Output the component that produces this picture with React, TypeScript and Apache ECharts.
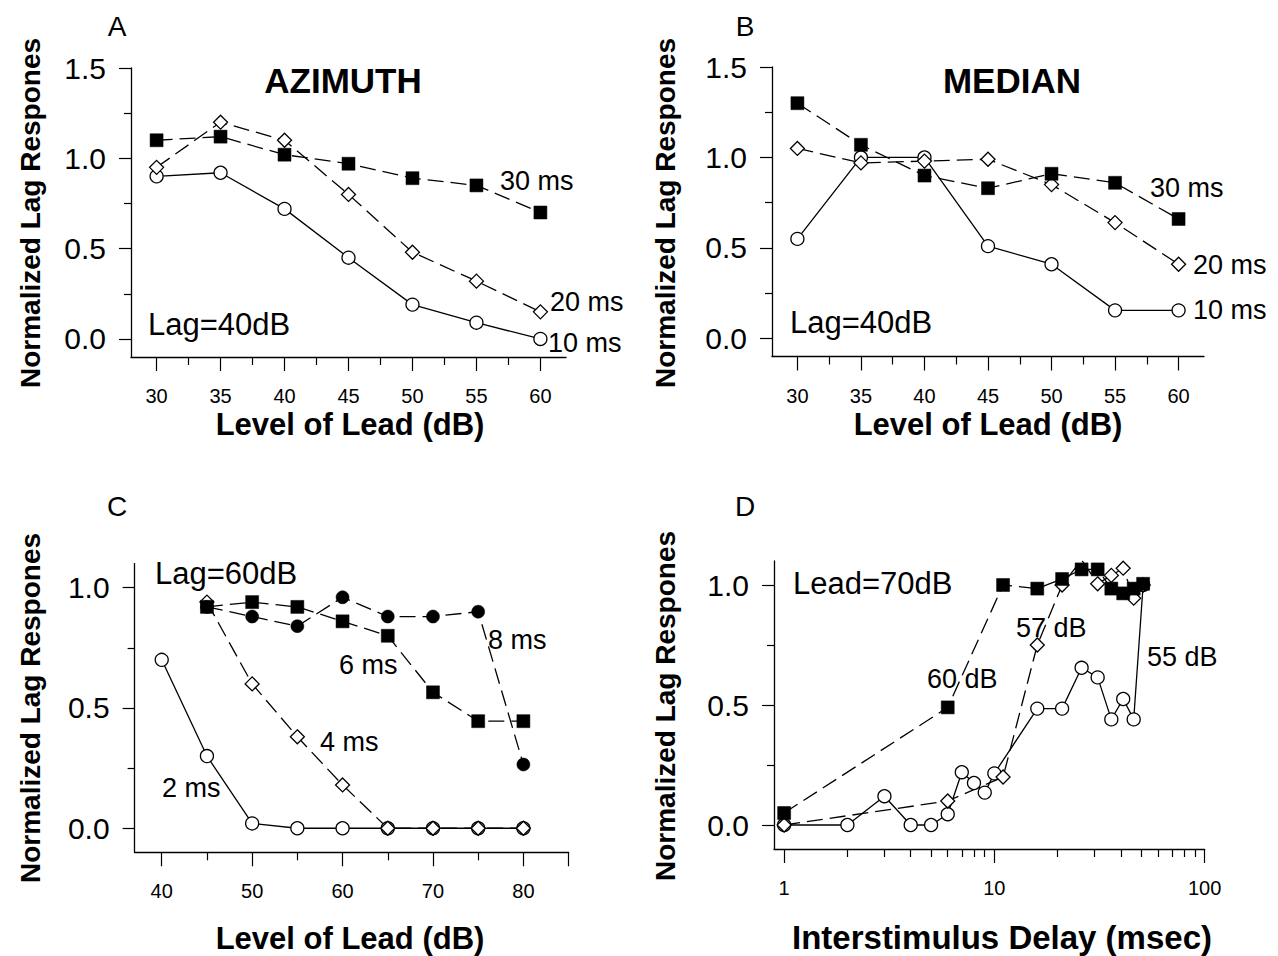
import React, { useEffect, useRef } from "react";
import * as echarts from "echarts";

// ---------- Panel A / B : Level of lead (dB) ----------
const leadLevelsAB = [30, 35, 40, 45, 50, 55, 60];
const azimuth30ms = [1.10, 1.12, 1.02, 0.97, 0.89, 0.85, 0.70];
const azimuth20ms = [0.95, 1.20, 1.10, 0.80, 0.48, 0.32, 0.15];
const azimuth10ms = [0.90, 0.92, 0.72, 0.45, 0.19, 0.09, 0.0];
const median30ms = [1.30, 1.07, 0.90, 0.83, 0.91, 0.86, 0.66];
const median20ms = [1.05, 0.97, 0.98, 0.99, 0.85, 0.64, 0.41];
const median10ms = [0.55, 1.0, 1.0, 0.51, 0.41, 0.155, 0.155];

// ---------- Panel C : Lag = 60 dB ----------
const leadLevels2ms = [40, 45, 50, 55, 60, 65, 70, 75, 80];
const lag2ms = [0.70, 0.30, 0.02, 0, 0, 0, 0, 0, 0];
const leadLevelsC = [45, 50, 55, 60, 65, 70, 75, 80];
const lag4ms = [0.94, 0.60, 0.38, 0.18, 0, 0, 0, 0];
const lag6ms = [0.92, 0.94, 0.92, 0.86, 0.80, 0.565, 0.445, 0.445];
const lag8ms = [0.92, 0.88, 0.84, 0.96, 0.88, 0.88, 0.90, 0.265];

// ---------- Panel D : Lead = 70 dB ----------
const delays60 = [1, 6, 11, 16, 21, 26, 31, 36, 41, 46, 51];
const lag60dB = [0.05, 0.49, 1.0, 0.985, 1.025, 1.065, 1.065, 0.985, 0.965, 0.985, 1.005];
const delays57 = [1, 6, 11, 16, 21, 26, 31, 36, 41, 46, 51];
const lag57dB = [0, 0.10, 0.20, 0.75, 1.0, 1.105, 1.005, 1.04, 1.07, 0.945, 1.0];
const delays55 = [1, 2, 3, 4, 5, 6, 7, 8, 9, 10, 16, 21, 26, 31, 36, 41, 46, 51];
const lag55dB = [0, 0, 0.12, 0, 0, 0.045, 0.22, 0.175, 0.135, 0.215, 0.485, 0.485, 0.655, 0.615, 0.44, 0.525, 0.44, 1.0];

// ---------- Tick values ----------
const ticksAB = [30, 35, 40, 45, 50, 55, 60];
const minorTicksAB = [32.5, 37.5, 42.5, 47.5, 52.5, 57.5];
const labelsC = [40, 50, 60, 70, 80];
const ticksC = [40, 50, 60, 70, 80, 85];
const minorTicksC = [45, 55, 65, 75];
const labelsD = [1, 10, 100];
const minorTicksD = [2, 3, 4, 5, 6, 7, 8, 9, 20, 30, 40, 50, 60, 70, 80, 90];
const yTicksAB = [0, 0.5, 1.0, 1.5];
const yMinorAB = [0.25, 0.75, 1.25];
const yTicksCD = [0, 0.5, 1.0];
const yMinorCD = [0.25, 0.75];

const FONT = "'Liberation Sans', Arial, Helvetica, sans-serif";

const pairs = (xs: number[], ys: number[]) => xs.map((x, i) => [x, ys[i]]);

type Marker = "square" | "diamond" | "circle" | "dot";
const markerStyle: Record<Marker, any> = {
  square: { symbol: "rect", symbolSize: 13, itemStyle: { color: "#000", borderColor: "#000", borderWidth: 0.5 } },
  diamond: { symbol: "diamond", symbolSize: 14, itemStyle: { color: "#fff", borderColor: "#000", borderWidth: 1.3 } },
  circle: { symbol: "circle", symbolSize: 13, itemStyle: { color: "#fff", borderColor: "#000", borderWidth: 1.3 } },
  dot: { symbol: "circle", symbolSize: 13, itemStyle: { color: "#000", borderColor: "#000", borderWidth: 0.5 } },
};

function lineSeries(name: string, data: number[][], g: number, marker: Marker, dashed: boolean) {
  const m = markerStyle[marker];
  return {
    type: "line",
    name,
    data,
    xAxisIndex: g * 2,
    yAxisIndex: g * 2,
    symbol: m.symbol,
    symbolSize: m.symbolSize,
    showSymbol: true,
    itemStyle: m.itemStyle,
    lineStyle: { color: "#000", width: 1.3, type: dashed ? [16, 7] : "solid" },
    emphasis: { disabled: true },
    silent: true,
  };
}

const tickLine = { color: "#000", width: 1.2 };

function xAxes(g: number, type: string, min: number, max: number, majors: number[], labels: number[], minors: number[]) {
  return [
    {
      gridIndex: g,
      type,
      position: "bottom",
      min,
      max,
      axisLine: { show: true, onZero: false, lineStyle: { color: "#000", width: 1.3 } },
      axisTick: { show: true, length: 14, customValues: majors, lineStyle: tickLine },
      axisLabel: {
        customValues: labels,
        margin: 29,
        fontSize: 20,
        color: "#000",
        fontFamily: FONT,
        formatter: (v: number) => String(v),
      },
      splitLine: { show: false },
      minorTick: { show: false },
    },
    {
      gridIndex: g,
      type,
      position: "bottom",
      min,
      max,
      axisLine: { show: false, onZero: false },
      axisTick: { show: true, length: 8, customValues: minors, lineStyle: tickLine },
      axisLabel: { show: false },
      splitLine: { show: false },
    },
  ];
}

function yAxes(g: number, min: number, max: number, majors: number[], minors: number[]) {
  return [
    {
      gridIndex: g,
      type: "value",
      position: "left",
      min,
      max,
      axisLine: { show: true, onZero: false, lineStyle: { color: "#000", width: 1.3 } },
      axisTick: { show: true, length: 12, customValues: majors, lineStyle: tickLine },
      axisLabel: {
        customValues: majors,
        margin: 25,
        fontSize: 30,
        color: "#000",
        fontFamily: FONT,
        formatter: (v: number) => v.toFixed(1),
      },
      splitLine: { show: false },
    },
    {
      gridIndex: g,
      type: "value",
      position: "left",
      min,
      max,
      axisLine: { show: false, onZero: false },
      axisTick: { show: true, length: 7, customValues: minors, lineStyle: tickLine },
      axisLabel: { show: false },
      splitLine: { show: false },
    },
  ];
}

function txt(text: string, x: number, y: number, size: number, opts: any = {}) {
  return {
    type: "text",
    x,
    y,
    rotation: opts.rotate ? Math.PI / 2 : 0,
    silent: true,
    style: {
      text,
      fill: "#000",
      font: `${opts.bold ? "bold " : ""}${size}px ${FONT}`,
      align: opts.align || "left",
      verticalAlign: "middle",
    },
  };
}

export default function App() {
  const ref = useRef<HTMLDivElement>(null);

  useEffect(() => {
    if (!ref.current) return;
    const chart = echarts.init(ref.current, undefined, { renderer: "svg" });

    const option: any = {
      animation: false,
      backgroundColor: "#fff",
      grid: [
        { left: 131, top: 68, width: 435, height: 289 },
        { left: 772, top: 67, width: 432, height: 289.5 },
        { left: 134.6, top: 563.6, width: 434, height: 288.7 },
        { left: 774, top: 561, width: 430.6, height: 288 },
      ],
      xAxis: [
        ...xAxes(0, "value", 28, 62, ticksAB, ticksAB, minorTicksAB),
        ...xAxes(1, "value", 28, 62, ticksAB, ticksAB, minorTicksAB),
        ...xAxes(2, "value", 37, 85, ticksC, labelsC, minorTicksC),
        ...xAxes(3, "log", 0.895, 100, labelsD, labelsD, minorTicksD),
      ],
      yAxis: [
        ...yAxes(0, -0.1, 1.5, yTicksAB, yMinorAB),
        ...yAxes(1, -0.1, 1.5, yTicksAB, yMinorAB),
        ...yAxes(2, -0.1, 1.1, yTicksCD, yMinorCD),
        ...yAxes(3, -0.1, 1.1, yTicksCD, yMinorCD),
      ],
      series: [
        lineSeries("Azimuth 10 ms", pairs(leadLevelsAB, azimuth10ms), 0, "circle", false),
        lineSeries("Azimuth 20 ms", pairs(leadLevelsAB, azimuth20ms), 0, "diamond", true),
        lineSeries("Azimuth 30 ms", pairs(leadLevelsAB, azimuth30ms), 0, "square", true),
        lineSeries("Median 10 ms", pairs(leadLevelsAB, median10ms), 1, "circle", false),
        lineSeries("Median 20 ms", pairs(leadLevelsAB, median20ms), 1, "diamond", true),
        lineSeries("Median 30 ms", pairs(leadLevelsAB, median30ms), 1, "square", true),
        lineSeries("2 ms", pairs(leadLevels2ms, lag2ms), 2, "circle", false),
        lineSeries("4 ms", pairs(leadLevelsC, lag4ms), 2, "diamond", true),
        lineSeries("6 ms", pairs(leadLevelsC, lag6ms), 2, "square", true),
        lineSeries("8 ms", pairs(leadLevelsC, lag8ms), 2, "dot", true),
        lineSeries("55 dB", pairs(delays55, lag55dB), 3, "circle", false),
        lineSeries("57 dB", pairs(delays57, lag57dB), 3, "diamond", true),
        lineSeries("60 dB", pairs(delays60, lag60dB), 3, "square", true),
      ],
      graphic: [
        // panel letters
        txt("A", 117, 26, 28, { align: "center" }),
        txt("B", 745, 26, 28, { align: "center" }),
        txt("C", 117, 506, 28, { align: "center" }),
        txt("D", 745, 506, 28, { align: "center" }),
        // panel titles
        txt("AZIMUTH", 343, 80, 35, { align: "center", bold: true }),
        txt("MEDIAN", 1012, 80, 35, { align: "center", bold: true }),
        // y axis titles
        txt("Normalized Lag Respones", 30, 213, 28, { align: "center", bold: true, rotate: true }),
        txt("Normalized Lag Respones", 665, 213, 28, { align: "center", bold: true, rotate: true }),
        txt("Normalized Lag Respones", 30, 708, 28, { align: "center", bold: true, rotate: true }),
        txt("Normalized Lag Respones", 665, 706, 28, { align: "center", bold: true, rotate: true }),
        // x axis titles
        txt("Level of Lead (dB)", 350, 424, 31, { align: "center", bold: true }),
        txt("Level of Lead (dB)", 988, 424, 31, { align: "center", bold: true }),
        txt("Level of Lead (dB)", 350, 938, 31, { align: "center", bold: true }),
        txt("Interstimulus Delay (msec)", 1002, 937, 33, { align: "center", bold: true }),
        // annotations A
        txt("30 ms", 500, 181, 27),
        txt("20 ms", 550, 302, 27),
        txt("10 ms", 548, 343, 27),
        txt("Lag=40dB", 148, 324, 31),
        // annotations B
        txt("30 ms", 1150, 188, 27),
        txt("20 ms", 1193, 265, 27),
        txt("10 ms", 1193, 310, 27),
        txt("Lag=40dB", 790, 322, 31),
        // annotations C
        txt("Lag=60dB", 155, 573, 31),
        txt("8 ms", 488, 640, 27),
        txt("6 ms", 339, 665, 27),
        txt("4 ms", 320, 742, 27),
        txt("2 ms", 162, 788, 27),
        // annotations D
        txt("Lead=70dB", 793, 583, 31),
        txt("60 dB", 927, 679, 27),
        txt("57 dB", 1016, 628, 27),
        txt("55 dB", 1147, 657, 27),
      ],
    };

    chart.setOption(option);
    return () => chart.dispose();
  }, []);

  return (
    <div
      ref={ref}
      style={{ position: "absolute", left: 0, top: 0, width: "1278px", height: "956px", background: "#fff" }}
    />
  );
}
